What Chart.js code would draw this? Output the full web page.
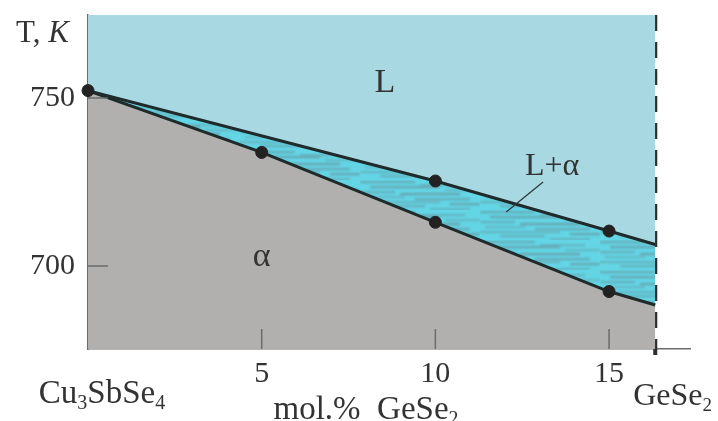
<!DOCTYPE html>
<html>
<head>
<meta charset="utf-8">
<script src="https://cdn.jsdelivr.net/npm/chart.js@4.4.1/dist/chart.umd.min.js"></script>
<style>
html,body{margin:0;padding:0;background:#fff;}
#wrap{width:718px;height:421px;position:relative;}
</style>
</head>
<body>
<div id="wrap"><canvas id="c" width="718" height="421"></canvas></div>
<script>
// ---- data (mol.% GeSe2, T in K) ----
const liquidusX = [0, 10, 15, 16.33];
const liquidusT = [752.2, 725.3, 710.4, 706.4];
const solidusX  = [0, 5, 10, 15, 16.33];
const solidusT  = [752.2, 733.8, 713.0, 692.4, 688.4];
const pointsX   = [0, 5, 10, 10, 15, 15];
const pointsT   = [752.2, 733.8, 725.3, 713.0, 710.4, 692.4];
const xTicks    = [5, 10, 15];
const yTicks    = [700, 750];
const xMin = 0, xMax = 17.33, yMin = 675.3, yMax = 774.7;
const limitX = 16.33;           // GeSe2 boundary (dashed)
const limitBottomT = 671.7;
const phaseLabels = [
  {text: 'L',   x: 8.55,  y: 754.5, size: 34},
  {text: 'α',   x: 5.0,   y: 702.6, size: 34},
  {text: 'L+α', x: 13.36, y: 729.6, size: 32}
];
const leader = {x1: 13.1, y1: 725.0, x2: 12.04, y2: 716.1};

const toPts = (xs, ys) => xs.map((x, i) => ({x: x, y: ys[i]}));

// streaky two-phase texture
function makePattern() {
  const pc = document.createElement('canvas');
  pc.width = 120; pc.height = 30;
  const g = pc.getContext('2d');
  g.fillStyle = '#63d5e5';
  g.fillRect(0, 0, 120, 30);
  g.filter = 'blur(1.2px)';
  const streaks = [
    [1, 0, 55, 0.45], [4, 60, 45, 0.35], [6, 10, 70, 0.5], [9, 85, 35, 0.3],
    [11, 0, 35, 0.4], [13, 40, 60, 0.55], [16, 5, 40, 0.3], [18, 55, 55, 0.45],
    [21, 0, 80, 0.35], [23, 90, 30, 0.5], [25, 20, 45, 0.4], [28, 70, 40, 0.35]
  ];
  streaks.forEach(s => {
    g.fillStyle = 'rgba(105,120,125,' + s[3] + ')';
    g.fillRect(s[1], s[0], s[2], 2.2);
  });
  return g.createPattern(pc, 'repeat');
}

const SERIF = '"Liberation Serif", "Times New Roman", serif';
const TXT = '#333333';

function drawParts(ctx, parts, x, y, size, align) {
  const fontFor = k => (k === 'i' ? 'italic ' : '') + (k === 's' ? Math.round(size * 0.6) : size) + 'px ' + SERIF;
  let w = 0;
  parts.forEach(p => { ctx.font = fontFor(p[1]); w += ctx.measureText(p[0]).width; });
  let cx = align === 'center' ? x - w / 2 : (align === 'right' ? x - w : x);
  ctx.textAlign = 'left';
  ctx.textBaseline = 'alphabetic';
  parts.forEach(p => {
    ctx.font = fontFor(p[1]);
    ctx.fillText(p[0], cx, p[1] === 's' ? y + size * 0.18 : y);
    cx += ctx.measureText(p[0]).width;
  });
}

const decor = {
  id: 'decor',
  afterDraw(chart) {
    const ctx = chart.ctx, xs = chart.scales.x, ys = chart.scales.y;
    const a = chart.chartArea;
    ctx.save();
    ctx.strokeStyle = '#6b6b6b';
    ctx.lineWidth = 1.5;
    xTicks.forEach(v => {
      const px = xs.getPixelForValue(v);
      ctx.beginPath(); ctx.moveTo(px, a.bottom); ctx.lineTo(px, a.bottom - 20); ctx.stroke();
    });
    yTicks.forEach(v => {
      const py = ys.getPixelForValue(v);
      ctx.beginPath(); ctx.moveTo(a.left, py); ctx.lineTo(a.left + 20, py); ctx.stroke();
    });
    ctx.strokeStyle = '#2a3a3c';
    ctx.lineWidth = 1.3;
    ctx.beginPath();
    ctx.moveTo(xs.getPixelForValue(leader.x1), ys.getPixelForValue(leader.y1));
    ctx.lineTo(xs.getPixelForValue(leader.x2), ys.getPixelForValue(leader.y2));
    ctx.stroke();
    ctx.fillStyle = TXT;
    phaseLabels.forEach(l => {
      ctx.font = l.size + 'px ' + SERIF;
      ctx.textAlign = 'center';
      ctx.textBaseline = 'middle';
      ctx.fillText(l.text, xs.getPixelForValue(l.x), ys.getPixelForValue(l.y));
    });
    drawParts(ctx, [['T, ', 'n'], ['K', 'i']], 16, 42, 31, 'left');
    drawParts(ctx, [['Cu', 'n'], ['3', 's'], ['SbSe', 'n'], ['4', 's']], xs.getPixelForValue(0) + 14, 403, 33, 'center');
    drawParts(ctx, [['mol.%  GeSe', 'n'], ['2', 's']], 366, 419, 33, 'center');
    drawParts(ctx, [['GeSe', 'n'], ['2', 's']], xs.getPixelForValue(limitX) - 22, 405, 32, 'left');
    ctx.restore();
  }
};

const pattern = makePattern();
const LINE = '#1f2a2b';

new Chart(document.getElementById('c'), {
  type: 'scatter',
  data: {
    datasets: [
      { label: 'points', data: toPts(pointsX, pointsT), showLine: false,
        pointRadius: 6, pointBackgroundColor: '#222', pointBorderColor: '#222', clip: false },
      { label: 'liquidus', data: toPts(liquidusX, liquidusT), showLine: true,
        borderColor: LINE, borderWidth: 3, pointRadius: 0, fill: 'end', backgroundColor: '#a8d9e3' },
      { label: 'solidus', data: toPts(solidusX, solidusT), showLine: true,
        borderColor: LINE, borderWidth: 3, pointRadius: 0, fill: 'start', backgroundColor: '#b2afaf' },
      { label: 'two-phase', data: toPts(liquidusX, liquidusT), showLine: true,
        borderWidth: 0, borderColor: 'rgba(0,0,0,0)', pointRadius: 0, fill: 2, backgroundColor: pattern },
      { label: 'limit', data: [{x: limitX, y: yMax}, {x: limitX, y: limitBottomT}], showLine: true,
        borderColor: '#2b2f30', borderWidth: 4, borderDash: [16, 11], pointRadius: 0, fill: false, clip: false }
    ]
  },
  options: {
    responsive: false,
    animation: false,
    layout: { autoPadding: false, padding: { left: 0, right: 28, top: 15, bottom: 0 } },
    plugins: { legend: { display: false }, tooltip: { enabled: false } },
    scales: {
      x: {
        type: 'linear', min: xMin, max: xMax, position: 'bottom', z: 1,
        grid: { display: false, drawTicks: false },
        border: { display: true, color: '#6b6b6b', width: 1.5 },
        afterBuildTicks: ax => { ax.ticks = xTicks.map(v => ({value: v})); },
        afterFit: ax => { ax.height = 72; ax.paddingLeft = 0; ax.paddingRight = 0; ax.paddingTop = 0; ax.paddingBottom = 0; },
        ticks: { color: TXT, font: { family: SERIF, size: 30 }, padding: 7, maxRotation: 0 }
      },
      y: {
        type: 'linear', min: yMin, max: yMax, z: 1,
        grid: { display: false, drawTicks: false },
        border: { display: true, color: '#6b6b6b', width: 1.5 },
        afterBuildTicks: ax => { ax.ticks = yTicks.map(v => ({value: v})); },
        afterFit: ax => { ax.width = 88; ax.paddingLeft = 0; ax.paddingRight = 0; ax.paddingTop = 0; ax.paddingBottom = 0; },
        ticks: { color: TXT, font: { family: SERIF, size: 30 }, padding: 13 }
      }
    }
  },
  plugins: [decor]
});
</script>
</body>
</html>
